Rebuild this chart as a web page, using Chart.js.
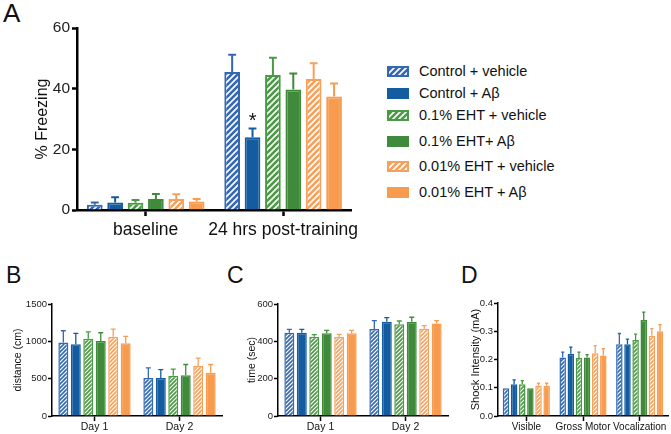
<!DOCTYPE html>
<html><head><meta charset="utf-8">
<script src="https://cdn.jsdelivr.net/npm/chart.js@4.4.0/dist/chart.umd.min.js"></script>
<style>
html,body{margin:0;padding:0;background:#fff;}
body{width:671px;height:434px;overflow:hidden;position:relative;font-family:'Liberation Sans',Arial,sans-serif;color:#111;}
canvas.c{position:absolute;}
.pl{position:absolute;line-height:1;color:#111;}
.lg{position:absolute;left:387px;height:16px;line-height:16px;font-size:14.5px;white-space:nowrap;}
.lg canvas{position:absolute;left:0;}
.lg span{position:absolute;left:32px;top:0;}
</style></head><body>
<div class="pl" style="left:3px;top:0px;font-size:26px">A</div>
<div class="pl" style="left:6px;top:264px;font-size:23px">B</div>
<div class="pl" style="left:227px;top:264px;font-size:23px">C</div>
<div class="pl" style="left:461px;top:264px;font-size:23px">D</div>
<canvas class="c" id="cA" width="365" height="245" style="left:0;top:0"></canvas>
<canvas class="c" id="cB" width="230" height="174" style="left:0;top:260px"></canvas>
<canvas class="c" id="cC" width="230" height="174" style="left:225px;top:260px"></canvas>
<canvas class="c" id="cD" width="221" height="174" style="left:450px;top:260px"></canvas>
<div id="legend"></div>
<script>
// ---- data ----
const groupNames = ['Control + vehicle','Control + Aβ','0.1% EHT + vehicle','0.1% EHT+ Aβ','0.01% EHT + vehicle','0.01% EHT + Aβ'];
const groupColors = ['#3468b3','#135c9f','#4a9944','#3f8b3b','#f5a15c','#f79b4e'];
const groupHatched = [true,false,true,false,true,false];

const freezingCats = ['baseline','24 hrs post-training'];
const freezingMean = [[1.7,45.5],[2.5,24.0],[2.4,44.5],[3.6,39.7],[3.6,43.2],[2.8,37.4]];
const freezingSem  = [[0.8,5.7],[1.7,2.9],[0.9,5.7],[1.7,5.3],[1.6,5.2],[0.8,4.3]];

const distanceCats = ['Day 1','Day 2'];
const distanceMean = [[985,510],[960,510],[1035,540],[1005,545],[1060,670],[975,578]];
const distanceSem  = [[157,135],[146,112],[93,87],[110,145],[104,105],[91,112]];

const timeCats = ['Day 1','Day 2'];
const timeMean = [[446,466],[446,505],[425,491],[443,505],[423,468],[443,495]];
const timeSem  = [[18,45],[18,22],[11,18],[16,24],[14,16],[16,16]];

const shockCats = ['Visible','Gross Motor','Vocalization'];
const shockMean = [[0.098,0.207,0.254],[0.112,0.220,0.254],[0.112,0.205,0.269],[0.098,0.207,0.340],[0.107,0.222,0.284],[0.107,0.214,0.300]];
const shockSem  = [[0,0.019,0.038],[0.016,0.024,0.018],[0.013,0.021,0.021],[0,0.010,0.028],[0.009,0.027,0.025],[0.009,0.024,0.023]];

// ---- helpers ----
Chart.defaults.font.family = "'Liberation Sans', Arial, sans-serif";
Chart.defaults.color = '#222';

function hatch(color, size, lw){
  const c = document.createElement('canvas'); c.width = c.height = size;
  const x = c.getContext('2d');
  x.fillStyle = '#fff'; x.fillRect(0,0,size,size);
  x.strokeStyle = color; x.lineWidth = lw;
  x.beginPath();
  x.moveTo(-1,size+1); x.lineTo(size+1,-1);
  x.moveTo(-size/2-1,size/2+1); x.lineTo(size/2+1,-size/2-1);
  x.moveTo(size/2-1,size*1.5+1); x.lineTo(size*1.5+1,size/2-1);
  x.stroke();
  return x.createPattern(c,'repeat');
}

const errorBars = {
  id:'errorBars',
  afterDatasetsDraw(chart, args, opts){
    const ctx = chart.ctx, ys = chart.scales.y;
    chart.data.datasets.forEach((ds, di) => {
      const meta = chart.getDatasetMeta(di);
      meta.data.forEach((bar, i) => {
        const e = ds.errors[i]; if (!e) return;
        const p = bar.getProps(['x','width'], true);
        const y0 = ys.getPixelForValue(ds.data[i]), y1 = ys.getPixelForValue(ds.data[i] + e);
        const cw = p.width * opts.cap;
        ctx.save();
        ctx.strokeStyle = ds.borderColor; ctx.lineWidth = opts.lw;
        ctx.beginPath();
        ctx.moveTo(p.x, y0); ctx.lineTo(p.x, y1);
        ctx.moveTo(p.x - cw/2, y1); ctx.lineTo(p.x + cw/2, y1);
        ctx.stroke(); ctx.restore();
      });
    });
    if (opts.star) {
      const [di, i] = opts.star;
      const ds = chart.data.datasets[di];
      const bar = chart.getDatasetMeta(di).data[i].getProps(['x'], true);
      const y = ys.getPixelForValue(ds.data[i] + ds.errors[i]);
      ctx.save(); ctx.fillStyle = '#111'; ctx.font = "20px 'Liberation Sans', Arial";
      ctx.textAlign = 'center'; ctx.textBaseline = 'alphabetic';
      ctx.fillText('*', bar.x, y - 1); ctx.restore();
    }
  }
};

function makePanel(id, o){
  const ctx = document.getElementById(id).getContext('2d');
  const datasets = groupNames.map((name, k) => ({
    label: name,
    data: o.mean[k],
    errors: o.sem[k],
    backgroundColor: groupHatched[k] ? hatch(groupColors[k], o.hs, o.hw) : groupColors[k],
    borderColor: groupColors[k],
    borderWidth: o.bw,
    borderSkipped: 'bottom',
    categoryPercentage: o.cp,
    barPercentage: o.bp
  }));
  return new Chart(ctx, {
    type: 'bar',
    data: { labels: o.cats, datasets },
    plugins: [errorBars],
    options: {
      responsive: false, animation: false,
      layout: { padding: { left: 0, right: o.pr, top: o.pt, bottom: 0 } },
      plugins: { legend: { display: false }, tooltip: { enabled: false },
        errorBars: { cap: 0.5, lw: o.elw, star: o.star } },
      scales: {
        x: {
          afterFit: s => { s.height = o.xh; },
          grid: { display: true, drawOnChartArea: false, offset: false, drawTicks: true,
                  tickLength: o.tl + 1, tickWidth: o.aw, tickColor: '#000' },
          border: { display: true, color: '#000', width: o.aw },
          ticks: { font: { size: o.xfs }, color: '#111', padding: o.xpad, maxRotation: 0, autoSkip: false }
        },
        y: {
          min: 0, max: o.max,
          afterFit: s => { s.width = o.yw; },
          grid: { display: true, drawOnChartArea: false, drawTicks: true,
                  tickLength: o.tl, tickWidth: o.aw, tickColor: '#000' },
          border: { display: true, color: '#000', width: o.aw },
          ticks: { stepSize: o.step, font: { size: o.yfs }, color: '#222', padding: o.ypad,
                   callback: o.fmt },
          title: { display: true, text: o.title, font: { size: o.tfs }, color: '#111',
                   padding: { top: o.tpad, bottom: 0 } }
        }
      }
    }
  });
}

makePanel('cA', { cats: freezingCats, mean: freezingMean, sem: freezingSem, max: 60, step: 20,
  fmt: v => String(v), title: '% Freezing', tfs: 16, tpad: 33, yw: 77, xh: 35, pt: 28, pr: 12,
  tl: 5, aw: 2.5, xfs: 17.5, yfs: 15.5, xpad: 4, ypad: 2, hs: 6, hw: 2.6, bw: 2, cp: 0.89, bp: 0.77,
  elw: 2, star: [1, 1] });

makePanel('cB', { cats: distanceCats, mean: distanceMean, sem: distanceSem, max: 1500, step: 500,
  fmt: v => String(v), title: 'distance (cm)', tfs: 10.5, tpad: 12, yw: 52, xh: 18, pt: 44, pr: 8,
  tl: 4, aw: 1.5, xfs: 10.5, yfs: 9.5, xpad: 0, ypad: 1, hs: 4, hw: 1.6, bw: 1.5, cp: 0.88, bp: 0.8,
  elw: 1.3 });

makePanel('cC', { cats: timeCats, mean: timeMean, sem: timeSem, max: 600, step: 200,
  fmt: v => String(v), title: 'time (sec)', tfs: 10.5, tpad: 21, yw: 53, xh: 18, pt: 44, pr: 7,
  tl: 4, aw: 1.5, xfs: 10.5, yfs: 9.5, xpad: 0, ypad: 1, hs: 4, hw: 1.6, bw: 1.5, cp: 0.88, bp: 0.8,
  elw: 1.3 });

makePanel('cD', { cats: shockCats, mean: shockMean, sem: shockSem, max: 0.4, step: 0.1,
  fmt: v => v.toFixed(1), title: 'Shock Intensity (mA)', tfs: 11, tpad: 19, yw: 48, xh: 18, pt: 43, pr: 3,
  tl: 4, aw: 1.5, xfs: 10, yfs: 9.5, xpad: 0, ypad: 1, hs: 4, hw: 1.6, bw: 1.5, cp: 0.86, bp: 0.8,
  elw: 1.3 });

// ---- legend ----
const legendRowsY = [71, 93, 115, 141, 166, 192];
const lgRoot = document.getElementById('legend');
groupNames.forEach((name, k) => {
  const row = document.createElement('div');
  row.className = 'lg'; row.style.top = (legendRowsY[k] - 8) + 'px';
  const sw = document.createElement('canvas'); sw.width = 22; sw.height = 11;
  sw.style.top = '2.5px';
  const sx = sw.getContext('2d');
  if (groupHatched[k]) {
    sx.fillStyle = hatch(groupColors[k], 6, 2.6); sx.fillRect(0,0,22,11);
    sx.strokeStyle = groupColors[k]; sx.lineWidth = 2; sx.strokeRect(1,1,20,9);
  } else { sx.fillStyle = groupColors[k]; sx.fillRect(0,0,22,11); }
  const t = document.createElement('span'); t.textContent = name;
  row.appendChild(sw); row.appendChild(t); lgRoot.appendChild(row);
});
</script>
</body></html>
